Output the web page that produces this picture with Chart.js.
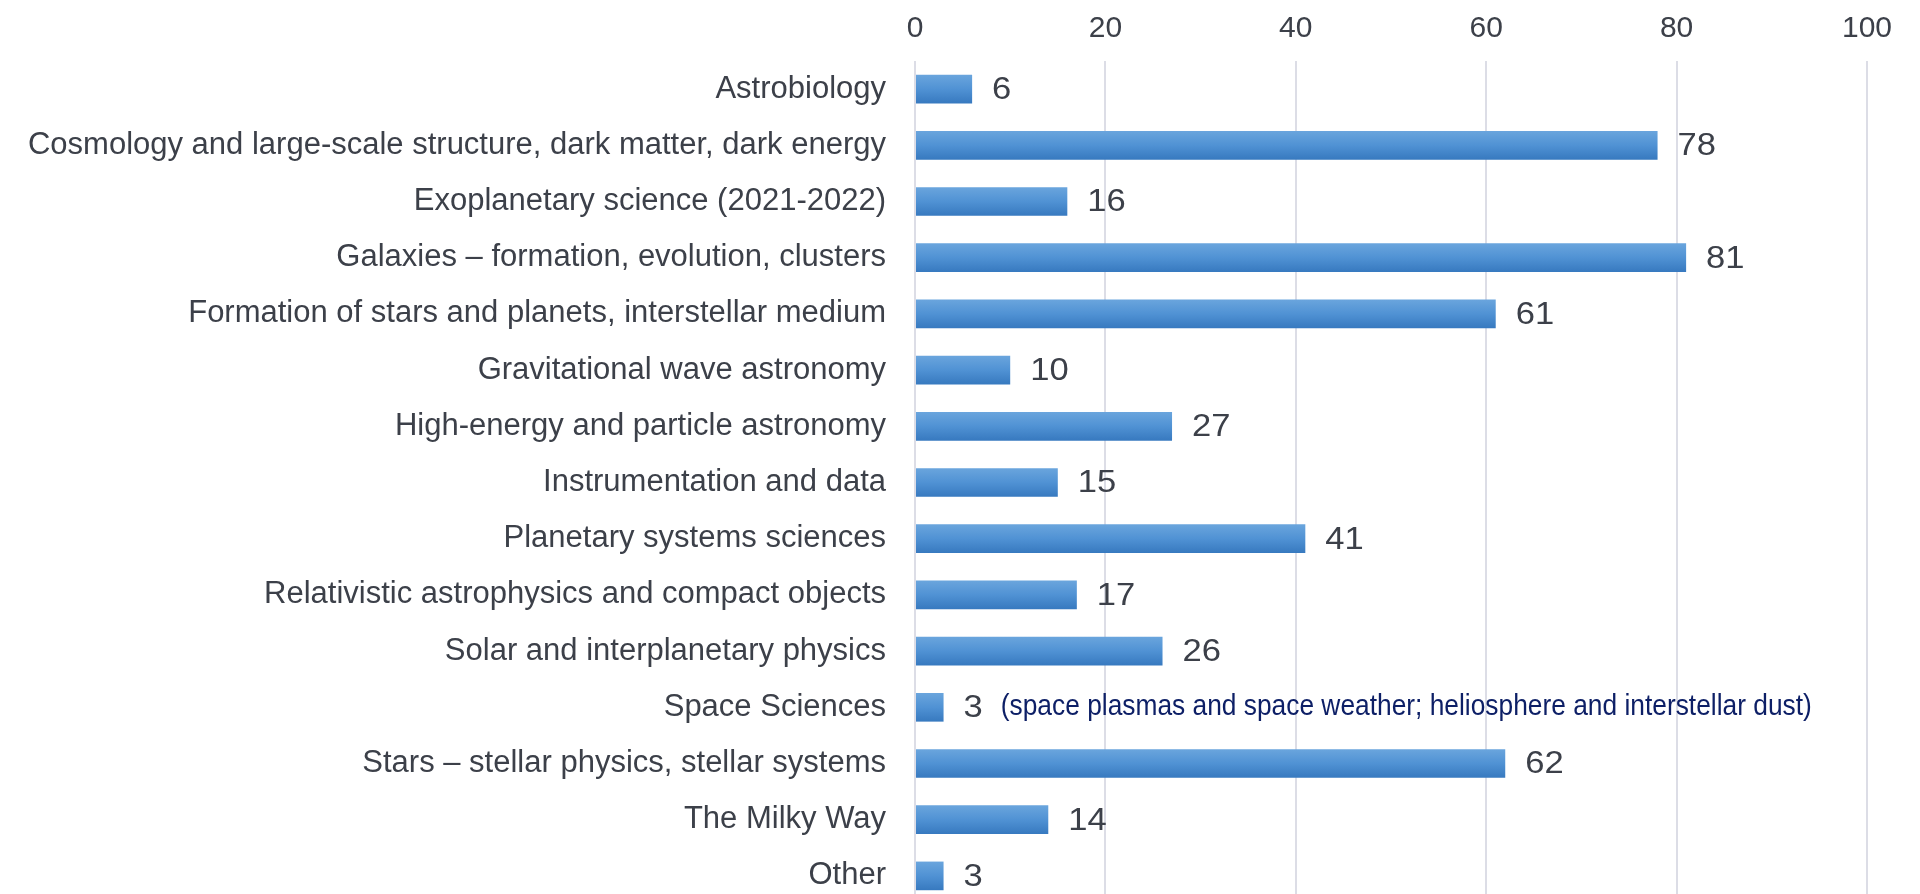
<!DOCTYPE html>
<html>
<head>
<meta charset="utf-8">
<script src="https://cdn.jsdelivr.net/npm/chart.js@4.4.1/dist/chart.umd.min.js"></script>
<style>
  html, body { margin: 0; padding: 0; background: #ffffff; overflow: hidden; }
  body { width: 1920px; height: 894px; }
  canvas { display: block; }
</style>
</head>
<body>
<canvas id="chart" width="1920" height="904"></canvas>
<script>
// dados do gráfico
const categories = [
  'Astrobiology',
  'Cosmology and large-scale structure, dark matter, dark energy',
  'Exoplanetary science (2021-2022)',
  'Galaxies \u2013 formation, evolution, clusters',
  'Formation of stars and planets, interstellar medium',
  'Gravitational wave astronomy',
  'High-energy and particle astronomy',
  'Instrumentation and data',
  'Planetary systems sciences',
  'Relativistic astrophysics and compact objects',
  'Solar and interplanetary physics',
  'Space Sciences',
  'Stars \u2013 stellar physics, stellar systems',
  'The Milky Way',
  'Other'
];
const counts = [6, 78, 16, 81, 61, 10, 27, 15, 41, 17, 26, 3, 62, 14, 3];
const xTicks = [0, 20, 40, 60, 80, 100];
const noteCategory = 'Space Sciences';
const noteText = '(space plasmas and space weather; heliosphere and interstellar dust)';

// gradiente das barras
const barGradient = {
  id: 'barGradient',
  beforeDatasetsDraw(chart) {
    const ctx = chart.ctx;
    chart.getDatasetMeta(0).data.forEach(bar => {
      const h = bar.height;
      const g = ctx.createLinearGradient(0, bar.y - h / 2, 0, bar.y + h / 2);
      g.addColorStop(0, '#6aa5dd');
      g.addColorStop(0.5, '#5092d4');
      g.addColorStop(1, '#3779bf');
      bar.options.backgroundColor = g;
    });
  }
};

// rótulos de valor e nota
const valueLabels = {
  id: 'valueLabels',
  afterDatasetsDraw(chart) {
    const ctx = chart.ctx;
    const meta = chart.getDatasetMeta(0);
    ctx.save();
    ctx.font = '32px "Liberation Sans", Arial, sans-serif';
    ctx.fillStyle = '#3c4049';
    ctx.textBaseline = 'middle';
    ctx.textAlign = 'left';
    meta.data.forEach((bar, i) => {
      ctx.save();
      ctx.translate(bar.x + 20, bar.y + 1);
      ctx.scale(1.08, 1);
      ctx.fillText(String(counts[i]), 0, 0);
      ctx.restore();
    });
    // nota de Space Sciences
    const i = categories.indexOf(noteCategory);
    const bar = meta.data[i];
    const x0 = bar.x + 20 + ctx.measureText(String(counts[i])).width * 1.08 + 18;
    ctx.font = '29px "Liberation Sans", Arial, sans-serif';
    ctx.fillStyle = '#0d1f66';
    const w = ctx.measureText(noteText).width;
    const sx = Math.min(1, 811 / w);
    ctx.translate(x0, bar.y);
    ctx.scale(sx, 1);
    ctx.fillText(noteText, 0, 0);
    ctx.restore();
  }
};

const chart = new Chart(document.getElementById('chart').getContext('2d'), {
  type: 'bar',
  data: {
    labels: categories,
    datasets: [{
      data: counts,
      backgroundColor: () => '#5092d4',
      borderWidth: 0,
      categoryPercentage: 1,
      barPercentage: 0.51
    }]
  },
  options: {
    indexAxis: 'y',
    responsive: false,
    animation: false,
    layout: { padding: { top: 0, right: 53, bottom: 0, left: 0 } },
    plugins: {
      legend: { display: false },
      tooltip: { enabled: false }
    },
    scales: {
      x: {
        position: 'top',
        min: 0,
        max: 100,
        afterBuildTicks: scale => { scale.ticks = xTicks.map(v => ({ value: v })); },
        afterFit: scale => { scale.height = 61; },
        border: { display: false },
        grid: { color: '#dcdde6', lineWidth: 2, drawTicks: false },
        ticks: {
          padding: 14,
          color: '#3c4049',
          font: { family: '"Liberation Sans", Arial, sans-serif', size: 30 }
        }
      },
      y: {
        afterFit: scale => {
          scale.width = 915;
          scale.paddingTop = 0;
          scale.paddingBottom = 0;
        },
        border: { display: false },
        grid: { display: false, drawTicks: false },
        ticks: {
          padding: 29,
          color: '#3c4049',
          font: { family: '"Liberation Sans", Arial, sans-serif', size: 31 }
        }
      }
    }
  },
  plugins: [barGradient, valueLabels]
});
</script>
</body>
</html>
